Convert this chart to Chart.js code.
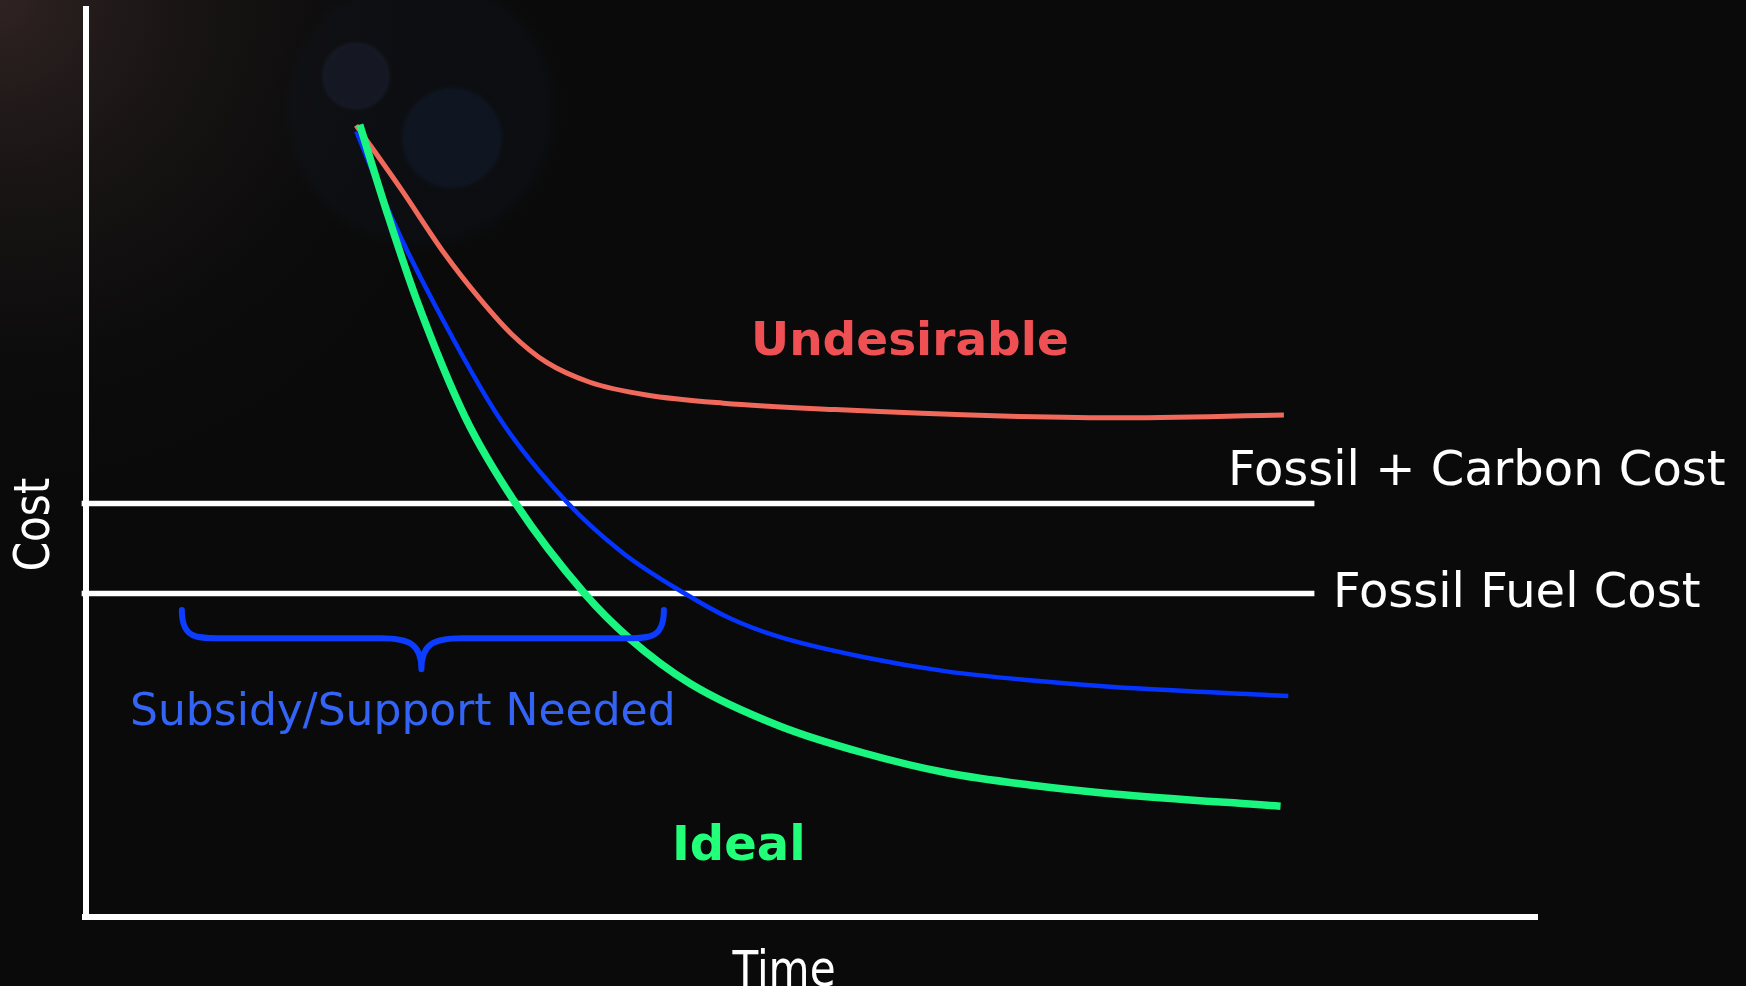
<!DOCTYPE html>
<html>
<head>
<meta charset="utf-8">
<title>Cost over Time</title>
<script src="https://cdn.jsdelivr.net/npm/chart.js@4.4.1/dist/chart.umd.min.js"></script>
<style>
  html, body { margin: 0; padding: 0; background: #0a0a0a; overflow: hidden; }
  #wrap { width: 1746px; height: 986px; }
</style>
</head>
<body>
<div id="wrap"><canvas id="chart" width="1746" height="986"></canvas></div>
<script>
// Cost curves over time (abstract units: time 0-100, cost 0-100)
const undesirableX = [18.6, 21.7, 24.7, 27.1, 29.3, 31.7, 34.7, 38.6, 43.9, 51.6, 63.1, 70.8, 82.5];
const undesirableY = [86.9, 79.9, 72.8, 67.9, 64.0, 60.9, 58.7, 57.3, 56.4, 55.7, 55.0, 54.8, 55.1];

const supportedX = [18.62, 21.07, 23.83, 28.59, 33.19, 37.02, 41.24, 44.31, 47.76, 53.51, 59.26, 65.01, 70.76, 82.80];
const supportedY = [86.24, 76.70, 67.78, 54.46, 45.41, 39.91, 35.51, 32.82, 30.74, 28.54, 26.96, 25.98, 25.25, 24.26];

const idealX = [18.85, 20.76, 22.76, 26.13, 29.59, 34.34, 37.40, 41.63, 47.76, 53.51, 59.26, 65.01, 70.76, 82.27];
const idealY = [86.97, 77.19, 67.78, 54.82, 45.41, 35.51, 30.62, 25.61, 20.97, 18.03, 15.83, 14.49, 13.51, 12.16];

// Reference cost levels and the span they are drawn over
const fossilCarbonCost = 45.4;
const fossilFuelCost = 35.5;
const levelStart = -0.3;
const levelEnd = 84.6;

// Span of the "subsidy needed" brace (time from/to/centre, cost at its ends, bar and tip)
const braceFrom = 6.6;
const braceTo = 39.8;
const braceCenter = 23.1;
const braceTopCost = 33.7;
const braceBarCost = 30.6;
const braceTipCost = 27.2;

const toPoints = (xs, ys) => xs.map((x, i) => ({ x, y: ys[i] }));

// Dark slide-style backdrop with a faint corner glow and lens spots
const backdrop = {
  id: 'backdrop',
  beforeDraw(chart) {
    const { ctx, width, height } = chart;
    ctx.save();
    ctx.fillStyle = '#0a0a0a';
    ctx.fillRect(0, 0, width, height);
    const g = ctx.createRadialGradient(0, 0, 0, 0, 0, 520);
    g.addColorStop(0, 'rgba(50,36,36,0.95)');
    g.addColorStop(0.45, 'rgba(28,23,23,0.6)');
    g.addColorStop(1, 'rgba(10,10,10,0)');
    ctx.fillStyle = g;
    ctx.fillRect(0, 0, width, height);
    const spots = [[420, 110, 150, 'rgba(15,20,30,0.35)'], [356, 76, 38, 'rgba(26,32,48,0.55)'], [452, 138, 56, 'rgba(17,27,42,0.6)']];
    spots.forEach(([x, y, r, c]) => {
      const s = ctx.createRadialGradient(x, y, 0, x, y, r);
      s.addColorStop(0, c);
      s.addColorStop(0.85, c);
      s.addColorStop(1, 'rgba(10,10,10,0)');
      ctx.fillStyle = s;
      ctx.beginPath();
      ctx.arc(x, y, r, 0, Math.PI * 2);
      ctx.fill();
    });
    ctx.restore();
  }
};

// Axis lines, brace and the text annotations
const annotations = {
  id: 'annotations',
  afterDatasetsDraw(chart) {
    const { ctx, scales: { x, y } } = chart;
    ctx.save();

    // axes
    ctx.strokeStyle = '#ffffff';
    ctx.lineWidth = 6;
    ctx.lineCap = 'butt';
    ctx.beginPath();
    ctx.moveTo(x.getPixelForValue(0), y.getPixelForValue(100));
    ctx.lineTo(x.getPixelForValue(0), y.getPixelForValue(0) + 3);
    ctx.moveTo(x.getPixelForValue(0) - 4, y.getPixelForValue(0));
    ctx.lineTo(x.getPixelForValue(100), y.getPixelForValue(0));
    ctx.stroke();

    // curly brace
    const L = x.getPixelForValue(braceFrom), R = x.getPixelForValue(braceTo), C = x.getPixelForValue(braceCenter);
    const top = y.getPixelForValue(braceTopCost), bar = y.getPixelForValue(braceBarCost), tip = y.getPixelForValue(braceTipCost);
    const r = 36, rc = 40;
    ctx.strokeStyle = '#0b3cff';
    ctx.lineWidth = 6;
    ctx.lineCap = 'round';
    ctx.lineJoin = 'round';
    ctx.beginPath();
    ctx.moveTo(L, top);
    ctx.bezierCurveTo(L, bar, L + r * 0.4, bar, L + r, bar);
    ctx.lineTo(C - rc, bar);
    ctx.bezierCurveTo(C - rc * 0.3, bar, C, bar + 6, C, tip);
    ctx.bezierCurveTo(C, bar + 6, C + rc * 0.3, bar, C + rc, bar);
    ctx.lineTo(R - r, bar);
    ctx.bezierCurveTo(R - r * 0.4, bar, R, bar, R, top);
    ctx.stroke();

    // labels
    ctx.textBaseline = 'alphabetic';
    ctx.textAlign = 'left';
    ctx.fillStyle = '#ffffff';
    ctx.font = '48px "DejaVu Sans"';
    ctx.fillText('Fossil + Carbon Cost', 1228, y.getPixelForValue(fossilCarbonCost) - 18);
    ctx.fillText('Fossil Fuel Cost', 1333, y.getPixelForValue(fossilFuelCost) + 13);

    ctx.font = 'bold 47px "DejaVu Sans"';
    ctx.fillStyle = '#ee5053';
    ctx.fillText('Undesirable', 751, 355);
    ctx.fillStyle = '#22ff78';
    ctx.font = 'bold 48px "DejaVu Sans"';
    ctx.fillText('Ideal', 672, 860);

    ctx.fillStyle = '#3364f6';
    ctx.font = '44px "DejaVu Sans"';
    ctx.fillText('Subsidy/Support Needed', 130, 725);

    // axis titles (narrow lettering)
    ctx.fillStyle = '#ffffff';
    ctx.font = '49px "DejaVu Sans"';
    ctx.textAlign = 'center';
    ctx.save();
    ctx.translate(784, 986);
    ctx.scale(0.86, 1);
    ctx.fillText('Time', 0, 0);
    ctx.restore();
    ctx.save();
    ctx.translate(49, 524.5);
    ctx.rotate(-Math.PI / 2);
    ctx.scale(0.86, 1);
    ctx.fillText('Cost', 0, 0);
    ctx.restore();

    ctx.restore();
  }
};

const levelLine = (label, value) => ({
  label,
  data: [{ x: levelStart, y: value }, { x: levelEnd, y: value }],
  borderColor: '#ffffff',
  borderWidth: 5.5,
  borderCapStyle: 'butt',
  pointRadius: 0,
  order: 3
});

new Chart(document.getElementById('chart'), {
  type: 'line',
  data: {
    datasets: [
      levelLine('Fossil + Carbon Cost', fossilCarbonCost),
      levelLine('Fossil Fuel Cost', fossilFuelCost),
      {
        label: 'Undesirable',
        data: toPoints(undesirableX, undesirableY),
        borderColor: '#f0695b',
        borderWidth: 5,
        pointRadius: 0,
        cubicInterpolationMode: 'monotone',
        order: 2
      },
      {
        label: 'Subsidy/Support Needed',
        data: toPoints(supportedX, supportedY),
        borderColor: '#0534ff',
        borderWidth: 4.5,
        pointRadius: 0,
        cubicInterpolationMode: 'monotone',
        order: 1
      },
      {
        label: 'Ideal',
        data: toPoints(idealX, idealY),
        borderColor: '#19f57e',
        borderWidth: 7.5,
        pointRadius: 0,
        cubicInterpolationMode: 'monotone',
        order: 0
      }
    ]
  },
  options: {
    responsive: false,
    animation: false,
    devicePixelRatio: 1,
    clip: false,
    layout: { padding: { left: 86, right: 208, top: 6, bottom: 69 } },
    plugins: { legend: { display: false }, tooltip: { enabled: false } },
    scales: {
      x: { type: 'linear', min: 0, max: 100, display: false },
      y: { type: 'linear', min: 0, max: 100, display: false }
    }
  },
  plugins: [backdrop, annotations]
});
</script>
</body>
</html>
